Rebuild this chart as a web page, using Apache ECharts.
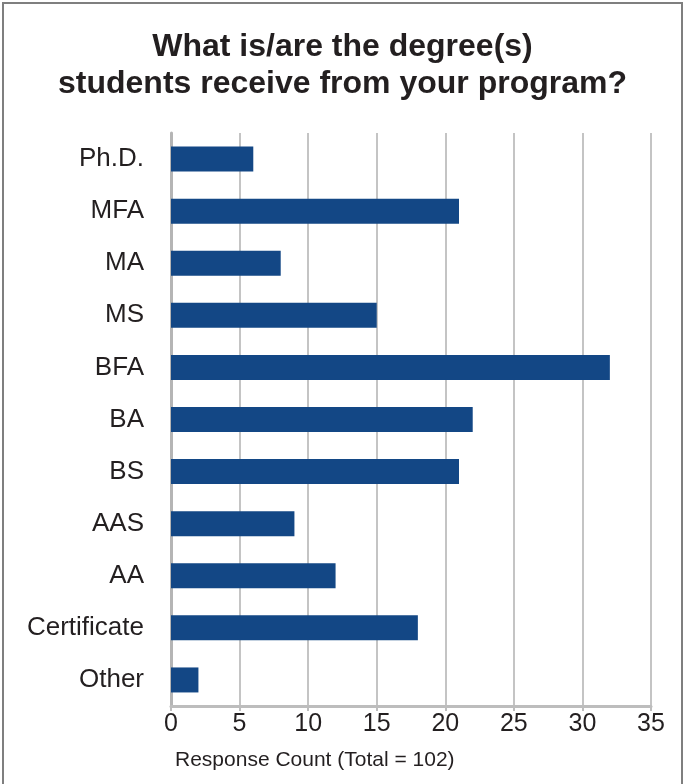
<!DOCTYPE html>
<html>
<head>
<meta charset="utf-8">
<script src="https://cdn.jsdelivr.net/npm/echarts@6/dist/echarts.min.js"></script>
<style>
  html, body { margin: 0; padding: 0; background: #fff; }
  #chart { width: 685px; height: 784px; }
</style>
</head>
<body>
<div id="chart"></div>
<script>
// degrees, top to bottom
var categories = ['Ph.D.', 'MFA', 'MA', 'MS', 'BFA', 'BA', 'BS', 'AAS', 'AA', 'Certificate', 'Other'];
var counts = [6, 21, 8, 15, 32, 22, 21, 9, 12, 18, 2];
var xTicks = [0, 5, 10, 15, 20, 25, 30, 35];

var font = '"Liberation Sans", Arial, sans-serif';
var chart = echarts.init(document.getElementById('chart'));

var option = {
    backgroundColor: '#fff',
    animation: false,
    title: [
        {
            text: 'What is/are the degree(s)\nstudents receive from your program?',
            left: 'center',
            top: 24,
            textStyle: {
                fontFamily: font,
                fontSize: 32,
                fontWeight: 'bold',
                color: '#231f20',
                lineHeight: 37
            }
        },
        {
            text: 'Response Count (Total = 102)',
            left: 170,
            top: 745,
            textStyle: {
                fontFamily: font,
                fontSize: 21,
                fontWeight: 'normal',
                color: '#231f20'
            }
        }
    ],
    graphic: [
        {
            type: 'rect',
            shape: { x: 3, y: 3, width: 679, height: 800 },
            style: { fill: 'none', stroke: '#7f7f7f', lineWidth: 2 },
            silent: true
        }
    ],
    grid: {
        left: 171,
        right: 34,
        top: 133,
        bottom: 78
    },
    xAxis: {
        type: 'value',
        min: xTicks[0],
        max: xTicks[xTicks.length - 1],
        interval: 5,
        axisLine: { show: true, lineStyle: { color: '#bdbdbd', width: 3 } },
        axisTick: { show: true, length: 5, lineStyle: { color: '#bdbdbd', width: 2 } },
        axisLabel: {
            margin: 6,
            fontFamily: font,
            fontSize: 25,
            color: '#231f20'
        },
        splitLine: { show: true, lineStyle: { color: '#c4c4c4', width: 2 } }
    },
    yAxis: {
        type: 'category',
        inverse: true,
        data: categories,
        axisLine: { show: true, lineStyle: { color: '#b5b5b5', width: 3 } },
        axisTick: { show: false },
        axisLabel: {
            margin: 27,
            fontFamily: font,
            fontSize: 26,
            color: '#231f20'
        }
    },
    series: [
        {
            type: 'bar',
            data: counts,
            barWidth: 25,
            itemStyle: { color: '#134785' }
        }
    ]
};

chart.setOption(option);
window.onresize = chart.resize;
</script>
</body>
</html>
